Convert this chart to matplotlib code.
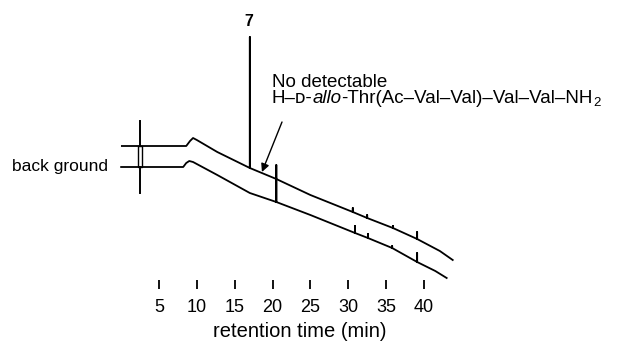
import matplotlib
matplotlib.use("Agg")
import matplotlib.pyplot as plt
from matplotlib.patches import Rectangle

plt.rcParams['font.family'] = ['Liberation Sans', 'DejaVu Sans']

# retention time (min) / detector response (arbitrary units)
# upper trace = sample, lower trace = back ground (blank run)
sample_time = [0.1, 8.6, 9.1, 9.5, 10.0, 12.7, 17.0, 17.0, 17.0, 20.5, 20.5, 20.5,
               25.0, 30.6, 30.6, 30.6, 32.5, 32.5, 32.5, 35.9, 35.9, 35.9,
               39.1, 39.1, 39.1, 42.1, 43.8]
sample_signal = [143, 143, 148, 151, 149, 137, 121, 252, 121, 110, 124, 110,
                 94, 77, 81, 77, 71, 74, 71, 61, 63, 61,
                 50, 57, 50, 38, 29]

blank_time = [0.0, 8.2, 8.6, 9.0, 9.5, 12.7, 17.0, 20.5, 20.5, 20.5,
              25.0, 30.9, 30.9, 30.9, 32.6, 32.6, 32.6, 35.8, 35.8, 35.8,
              39.1, 39.1, 39.1, 41.5, 43.0]
blank_signal = [122, 122, 126, 128, 127, 114, 96, 87, 110, 87,
                74, 56, 63, 56, 51, 55, 51, 41, 43, 41,
                27, 36, 27, 18, 11]

tick_minutes = [5, 10, 15, 20, 25, 30, 35, 40]

peak_label = "7"
peak_time = 17.0
peak_top = 252

# injection marker on the left
marker_time = 2.5
marker_range = (96, 168)

fig = plt.figure(figsize=(6.17, 3.44), dpi=100)
ax = fig.add_axes([0, 55 / 344, 1, 289 / 344])
ax.set_xlim(-16.0, 65.5)
ax.set_ylim(0, 289)

ax.plot(sample_time, sample_signal, color='black', lw=1.3, solid_joinstyle='round')
ax.plot(blank_time, blank_signal, color='black', lw=1.3, solid_joinstyle='round')

# start marker: vertical bar, hollow between the two baselines
ax.plot([marker_time, marker_time], [marker_range[0], blank_signal[0]], color='black', lw=1.4)
ax.plot([marker_time, marker_time], [sample_signal[0], marker_range[1]], color='black', lw=1.4)
ax.add_patch(Rectangle((marker_time - 0.22, blank_signal[0]), 0.44,
                       sample_signal[0] - blank_signal[0],
                       fill=False, edgecolor='black', lw=1.0))

ax.text(-14.4, blank_signal[0], "back ground", fontsize=12.5, ha='left', va='center')

ax.text(peak_time - 0.1, 267, peak_label, fontsize=11.5, fontweight='bold',
        ha='center', va='center')

ax.text(19.9, 202, "No detectable", fontsize=13.5, ha='left', va='baseline')

# compound name built from pieces: small-cap D, italic allo, subscript 2
t1 = ax.text(19.9, 186, "H\u2013\u1d05-", fontsize=13.5, ha='left', va='baseline')
t2 = ax.annotate("allo", xy=(1, 0), xycoords=t1, fontsize=13.5, style='italic',
                 ha='left', va='bottom')
t3 = ax.annotate("-Thr(Ac\u2013Val\u2013Val)\u2013Val\u2013Val\u2013NH", xy=(1, 0),
                 xycoords=t2, fontsize=13.5, ha='left', va='bottom')
ax.annotate("2", xy=(1, 0), xycoords=t3, xytext=(0, -1.5), textcoords='offset points',
            fontsize=9.5, ha='left', va='bottom')

ax.annotate('', xy=(18.6, 117), xytext=(21.25, 167),
            arrowprops=dict(arrowstyle='-|>', color='black', lw=1.0,
                            mutation_scale=12, shrinkA=0, shrinkB=0))

for side in ['left', 'right', 'top', 'bottom']:
    ax.spines[side].set_visible(False)
ax.set_yticks([])
ax.set_xticks(tick_minutes)
ax.set_xticklabels([str(m) for m in tick_minutes])
ax.tick_params(axis='x', direction='in', length=6.5, width=1.3, pad=7.5, labelsize=13)
ax.set_xlabel("retention time (min)", fontsize=14.5, labelpad=5)
ax.xaxis.set_label_coords(300 / 617, -0.115)

fig.savefig('out.png', dpi=100)
